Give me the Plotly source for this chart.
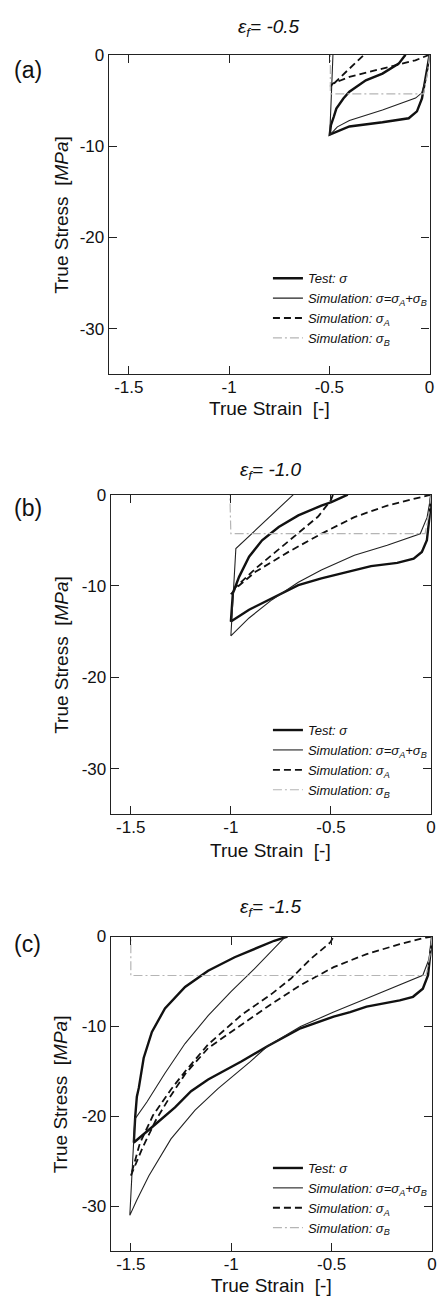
import plotly.graph_objects as go

# ---------------- data ----------------
# Panel (a): eps_f = -0.5
a_test_x = [0, -0.01, -0.022, -0.038, -0.063, -0.104, -0.235, -0.32, -0.40, -0.498,
            -0.492, -0.478, -0.465, -0.43, -0.40, -0.318, -0.235, -0.154, -0.12]
a_test_y = [0, -1.2, -2.6, -4.8, -6.2, -6.96, -7.4, -7.6, -7.86, -8.75,
            -7.7, -6.8, -5.9, -4.8, -4.06, -2.8, -2.07, -0.98, 0]
a_sim_x = [0, -0.015, -0.04, -0.07, -0.235, -0.40, -0.46, -0.498, -0.49, -0.482]
a_sim_y = [0, -2.5, -4.2, -4.75, -6.05, -7.2, -7.9, -8.8, -4.5, 0]
a_A_x = [0, -0.071, -0.235, -0.40, -0.482, -0.495, -0.482, -0.42, -0.326]
a_A_y = [0, -0.62, -1.52, -2.43, -3.15, -3.5, -3.26, -1.95, 0]
a_B_x = [0, -0.01, -0.03, -0.495, -0.495]
a_B_y = [0, -2.0, -4.3, -4.3, 0]

# Panel (b): eps_f = -1.0
b_test_x = [0, -0.008, -0.021, -0.046, -0.087, -0.169, -0.30, -0.416, -0.548, -0.663,
            -0.794, -0.909, -1.0,
            -0.995, -0.99, -0.959, -0.909, -0.844, -0.761, -0.663, -0.548, -0.498, -0.416]
b_test_y = [0, -2.46, -5.0, -6.27, -7.0, -7.47, -7.83, -8.45, -9.17, -9.9,
            -11.34, -12.6, -13.9,
            -12.3, -10.8, -9.0, -6.8, -5.0, -3.55, -2.28, -1.2, -0.83, 0]
b_sim_x = [0, -0.02, -0.054, -0.219, -0.383, -0.548, -0.663, -0.794, -0.909, -1.0,
           -0.975, -0.688]
b_sim_y = [0, -2.5, -4.28, -5.54, -6.63, -8.26, -9.6, -11.5, -13.5, -15.45,
           -5.9, 0]
b_A_x = [0, -0.219, -0.383, -0.548, -0.712, -0.877, -0.975, -1.0,
         -0.975, -0.877, -0.778, -0.679, -0.564, -0.50, -0.49]
b_A_y = [0, -1.2, -2.46, -4.28, -6.27, -8.45, -10.25, -10.9,
         -10.1, -8.1, -6.3, -4.5, -2.4, -0.6, 0]
b_B_x = [0, -0.01, -0.03, -1.0, -1.005]
b_B_y = [0, -2.0, -4.28, -4.28, 0]

# Panel (c): eps_f = -1.5
c_test_x = [0, -0.008, -0.02, -0.046, -0.095, -0.161, -0.243, -0.326, -0.408, -0.49,
            -0.655, -0.82, -0.95, -1.115, -1.2, -1.28, -1.395, -1.485,
            -1.478, -1.47, -1.46, -1.436, -1.395, -1.33, -1.23, -1.115, -0.983,
            -0.885, -0.786, -0.72]
c_test_y = [0, -2.0, -4.3, -5.8, -6.7, -7.1, -7.46, -7.8, -8.4, -8.9,
            -10.2, -12.2, -13.9, -15.9, -17.2, -19.0, -21.2, -22.9,
            -20.0, -17.8, -16.8, -13.5, -10.6, -8.0, -5.6, -3.8, -2.3,
            -1.4, -0.47, 0]
c_sim_x = [0, -0.015, -0.046, -0.161, -0.326, -0.49, -0.655, -0.82, -0.905, -1.066,
           -1.18, -1.30, -1.41, -1.47, -1.505,
           -1.48, -1.42, -1.33, -1.23, -1.115, -1.0, -0.885, -0.786, -0.73]
c_sim_y = [0, -2.5, -4.3, -5.4, -6.9, -8.4, -10.0, -12.2, -13.9, -16.9,
           -19.3, -22.5, -26.6, -29.3, -31.0,
           -20.3, -18.4, -15.2, -11.9, -8.8, -6.1, -3.6, -1.3, 0]
c_A_x = [0, -0.03, -0.161, -0.326, -0.49, -0.655, -0.82, -0.95, -1.115, -1.23,
         -1.31, -1.375, -1.44, -1.5,
         -1.455, -1.39, -1.30, -1.23, -1.115, -0.95, -0.80, -0.704, -0.605, -0.507, -0.49]
c_A_y = [0, -0.11, -0.85, -1.95, -3.4, -5.4, -7.8, -9.85, -12.4, -15.3,
         -18.0, -20.4, -23.4, -26.6,
         -23.0, -19.9, -17.0, -15.0, -12.0, -8.74, -6.4, -4.7, -2.5, -0.66, 0]
c_B_x = [0, -0.01, -0.03, -1.5, -1.5]
c_B_y = [0, -2.0, -4.33, -4.33, 0]

panel_titles = ["<i>\u03b5<sub>f</sub>= -0.5</i>", "<i>\u03b5<sub>f</sub>= -1.0</i>",
                "<i>\u03b5<sub>f</sub>= -1.5</i>"]
panel_labels = ["(a)", "(b)", "(c)"]
series_names = ["<i>Test: \u03c3</i>",
                "<i>Simulation: \u03c3=\u03c3<sub>A</sub>+\u03c3<sub>B</sub></i>",
                "<i>Simulation: \u03c3<sub>A</sub></i>",
                "<i>Simulation: \u03c3<sub>B</sub></i>"]
x_tickvals = [-1.5, -1, -0.5, 0]
x_ticktext = ["-1.5", "-1", "-0.5", "0"]
y_tickvals = [0, -10, -20, -30]
y_ticktext = ["0", "-10", "-20", "-30"]

# ---------------- layout geometry (pixels) ----------------
W, H = 443, 1300
panels = [
    dict(x0=110, x1=434.5, y0=46, y1=368, title_y=19, label_y=61, xt_y=402, leg_top=256),
    dict(x0=112, x1=436, y0=489, y1=811, title_y=465, label_y=502, xt_y=847, leg_top=711),
    dict(x0=112, x1=437, y0=934, y1=1251, title_y=905, label_y=942, xt_y=1285, leg_top=1152),
]

data = [
    (a_test_x, a_test_y, a_sim_x, a_sim_y, a_A_x, a_A_y, a_B_x, a_B_y),
    (b_test_x, b_test_y, b_sim_x, b_sim_y, b_A_x, b_A_y, b_B_x, b_B_y),
    (c_test_x, c_test_y, c_sim_x, c_sim_y, c_A_x, c_A_y, c_B_x, c_B_y),
]

styles = [
    dict(color="#111111", width=2.4, dash="solid"),
    dict(color="#222222", width=1.1, dash="solid"),
    dict(color="#111111", width=1.8, dash="7px,4px"),
    dict(color="#b5b5b5", width=1.2, dash="9px,3px,2px,3px"),
]

FONT = "Liberation Sans, Arial, sans-serif"
fig = go.Figure()
annotations = []
layout_axes = {}

for i, (p, d) in enumerate(zip(panels, data)):
    sfx = "" if i == 0 else str(i + 1)
    legname = "legend" + sfx
    for k in range(4):
        fig.add_trace(go.Scatter(
            x=d[2 * k], y=d[2 * k + 1], mode="lines", name=series_names[k],
            line=styles[k], xaxis="x" + sfx, yaxis="y" + sfx, legend=legname,
            showlegend=True))
    axcommon = dict(showline=True, linecolor="#222", linewidth=1.2, mirror="ticks",
                    ticks="inside", ticklen=8, tickwidth=1, tickcolor="#222",
                    showgrid=False, zeroline=False,
                    tickfont=dict(family=FONT, size=17, color="#111"))
    layout_axes["xaxis" + sfx] = dict(
        axcommon, domain=[p["x0"] / W, p["x1"] / W], range=[-1.6, 0],
        tickvals=x_tickvals, ticktext=x_ticktext, anchor="y" + sfx,
        ticklabelstandoff=-3)
    layout_axes["yaxis" + sfx] = dict(
        axcommon, domain=[1 - p["y1"] / H, 1 - p["y0"] / H], range=[-35, 0],
        tickvals=y_tickvals, ticktext=y_ticktext, anchor="x" + sfx)
    layout_axes[legname] = dict(
        x=271 / W, y=1 - p["leg_top"] / H, xanchor="left", yanchor="top",
        bgcolor="rgba(0,0,0,0)", font=dict(family=FONT, size=13, color="#111"),
        tracegroupgap=0)
    cx = (p["x0"] + p["x1"]) / 2 / W
    annotations += [
        dict(text=panel_titles[i], x=cx, y=1 - p["title_y"] / H, xref="paper", yref="paper",
             showarrow=False, xanchor="center", yanchor="middle",
             font=dict(family=FONT, size=19, color="#111")),
        dict(text=panel_labels[i], x=28 / W, y=1 - p["label_y"] / H, xref="paper", yref="paper",
             showarrow=False, xanchor="center", yanchor="middle",
             font=dict(family=FONT, size=23, color="#111")),
        dict(text="True Stress  [<i>MPa</i>]", x=62 / W, y=1 - (p["y0"] + p["y1"]) / 2 / H,
             xref="paper", yref="paper", showarrow=False, textangle=-90,
             xanchor="center", yanchor="middle",
             font=dict(family=FONT, size=19, color="#111")),
        dict(text="True Strain  [-]", x=cx, y=1 - p["xt_y"] / H, xref="paper", yref="paper",
             showarrow=False, xanchor="center", yanchor="middle",
             font=dict(family=FONT, size=19, color="#111")),
    ]

fig.update_layout(
    width=W, height=H, margin=dict(l=0, r=0, t=0, b=0),
    paper_bgcolor="white", plot_bgcolor="white", showlegend=True,
    annotations=annotations, **layout_axes)

fig.write_html("out.html")
